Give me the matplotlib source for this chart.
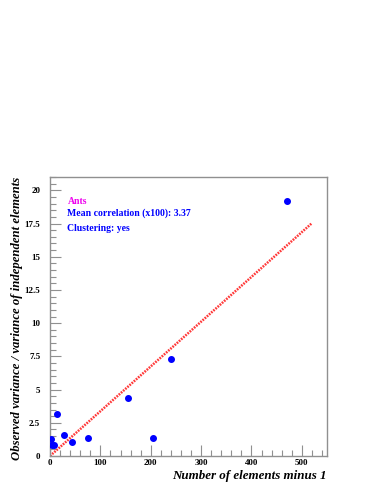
import numpy as np
import matplotlib
matplotlib.use("Agg")
import matplotlib.pyplot as plt
from matplotlib.ticker import MultipleLocator, FormatStrFormatter

# data
n_minus_1 = [1, 3, 8, 13, 27, 44, 75, 154, 205, 240, 470]
var_ratio = [1.26, 0.80, 0.80, 3.17, 1.56, 1.03, 1.38, 4.35, 1.38, 7.29, 19.2]
mean_corr = 3.37
fit_x = [0, 520]

plt.rcParams['font.family'] = ['Liberation Serif', 'DejaVu Serif']

fig = plt.figure(figsize=(3.82, 4.94), dpi=100)
ax = fig.add_axes([50/382, 1 - 456/494, 277/382, 279/494])

fx = np.array(fit_x)
ax.plot(fx, fx * mean_corr / 100, color='#ff3838', ls=(0, (0.7, 0.45)), lw=1.8, zorder=2)
ax.scatter(n_minus_1, var_ratio, s=16, color='blue', zorder=3, clip_on=True)

ax.set_xlim(0, 550)
ax.set_ylim(0, 21)
ax.xaxis.set_major_locator(MultipleLocator(100))
ax.xaxis.set_minor_locator(MultipleLocator(20))
ax.yaxis.set_major_locator(MultipleLocator(2.5))
ax.yaxis.set_minor_locator(MultipleLocator(0.5))
ax.yaxis.set_major_formatter(FormatStrFormatter('%g'))

for s in ax.spines.values():
    s.set_color('#909090')
    s.set_linewidth(1.0)
ax.tick_params(which='both', direction='in', color='#909090', top=False, right=False)
ax.tick_params(which='major', length=8, width=0.8, labelsize=6.5)
ax.tick_params(which='minor', length=4, width=0.8)
ax.tick_params(axis='x', which='major', pad=2.5)
ax.tick_params(axis='y', which='major', pad=7)
for lab in ax.get_xticklabels() + ax.get_yticklabels():
    lab.set_fontweight('bold')

ax.set_xlabel('Number of elements minus 1', fontsize=9.4, fontweight='bold',
              style='italic', loc='right')
ax.set_ylabel('Observed variance / variance of independent elements', fontsize=9.2,
              fontweight='bold', style='italic', loc='top')
ax.xaxis.set_label_coords(1.0, -0.049)
ax.yaxis.set_label_coords(-0.097, 1.0)

ax.text(0.063, 0.913, 'Ants', transform=ax.transAxes, color='#ee00ee',
        fontsize=7, fontweight='bold', va='center')
ax.text(0.063, 0.870, 'Mean correlation (x100): %.2f' % mean_corr, transform=ax.transAxes,
        color='blue', fontsize=7, fontweight='bold', va='center')
ax.text(0.063, 0.817, 'Clustering: yes', transform=ax.transAxes, color='blue',
        fontsize=7, fontweight='bold', va='center')

fig.savefig('out.png', dpi=100)
